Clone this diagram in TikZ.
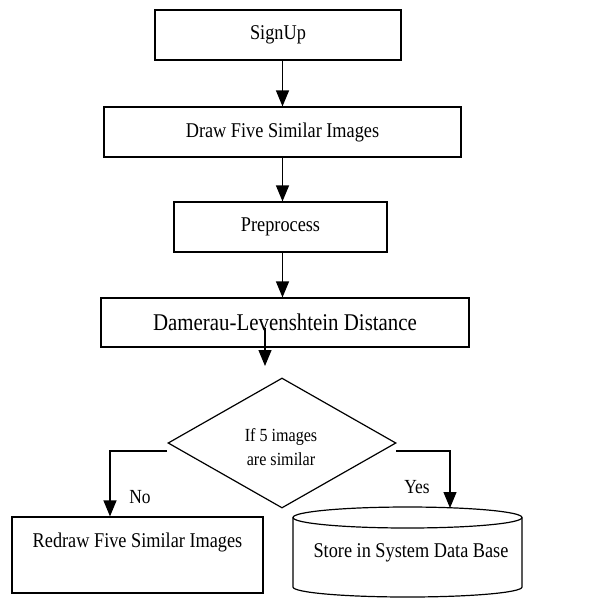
\documentclass[tikz,border=0pt]{standalone}
\usepackage{fontspec}
\setmainfont{Liberation Serif}
\usetikzlibrary{shapes.geometric,arrows.meta,calc}
\newcommand{\sq}[2]{\scalebox{0.87}[1]{\fontsize{#1}{#1}\selectfont #2}}
\tikzset{
  ln/.style={line width=1.2pt},
  box/.style={ln, draw, rectangle, inner sep=0pt},
  arr/.style={ln, -{Triangle[length=16pt,width=13pt]}},
  lbl/.style={inner sep=0pt}
}
\begin{document}
\begin{tikzpicture}[x=1pt,y=-1pt]
\useasboundingbox (0,0) rectangle (607,598);
\node[box, minimum width=246pt, minimum height=50pt] (signup) at (278,35) {\sq{21}{SignUp}};
\node[box, minimum width=357pt, minimum height=50pt] (drawb) at (282.5,132) {\sq{21}{Draw Five Similar Images}};
\node[box, minimum width=213pt, minimum height=50pt] (pre) at (280.5,227) {\sq{21}{Preprocess}};
\node[box, minimum width=368pt, minimum height=49pt] (dl) at (285,322.5) {\sq{24}{Damerau-Levenshtein Distance}};
\node[ln, draw, diamond, aspect=1.75, inner sep=0pt, minimum width=228pt, minimum height=130pt] (dia) at (282,443) {};
\node[lbl, align=center, font=\fontsize{18.5}{24}\selectfont] (diat) at (281,447) {\sq{18.5}{If 5 images}\\\sq{18.5}{are similar}};
\node[box, minimum width=251pt, minimum height=76pt] (redraw) at (137.5,555) {};
\node[lbl] (redrawt) at (137.5,542) {\sq{21}{Redraw Five Similar Images}};
% cylinder
\draw[ln] (407.5,517.5) ellipse [x radius=114.5pt, y radius=10.5pt];
\draw[ln] (293,517.5) -- (293,587) arc[start angle=180, end angle=360, x radius=114.5pt, y radius=10pt] -- (522,517.5);
\node[lbl] (store) at (411,553) {\sq{21}{Store in System Data Base}};
\coordinate (cyltop) at (450,508);
% labels
\node[lbl] (no) at (140,497) {\sq{20}{No}};
\node[lbl] (yes) at (417,487) {\sq{20}{Yes}};
% connectors
\draw[arr] (drawb.north |- signup.south) -- (drawb.north);
\draw[arr] (drawb.south) -- (drawb.south |- pre.north);
\draw[arr] (drawb.south |- pre.south) -- (drawb.south |- dl.north);
\coordinate (dlstart) at (265,328);
\coordinate (dlend) at (265,366);
\draw[arr] (dlstart) -- (dlend);
\coordinate (nostart) at (167,451);
\draw[arr] (nostart) -| (redraw.north -| 110,0);
\coordinate (yesstart) at (396,451);
\draw[arr] (yesstart) -| (cyltop);
\end{tikzpicture}
\end{document}
